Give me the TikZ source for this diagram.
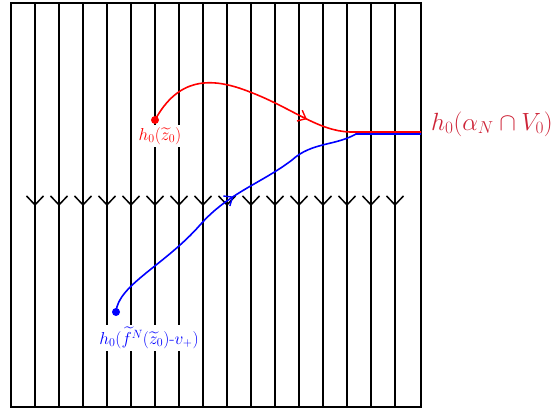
\documentclass[tikz,border=0pt]{standalone}
\usepackage{amsmath,amssymb}
\usepackage{tikz}
\usetikzlibrary{arrows.meta}
\usetikzlibrary{decorations.markings}
\usepackage{xcolor}
\definecolor{LeafRed}{RGB}{255,0,0}
\definecolor{LeafBlue}{RGB}{0,0,255}
\definecolor{SetRed}{RGB}{205,35,55}
\tikzset{
	leaf/.style={black, line width=1.6pt},
	leaftip/.style={-{Straight Barb[length=9pt, width=17pt, line width=1.5pt]}},
	frame/.style={black, line width=1.6pt},
	orbit/.style={line width=1.6pt},
	dot/.style={circle, inner sep=0pt, minimum size=8pt},
	tag/.style={fill=white, inner sep=2pt, font=\fontsize{17.5}{20}\selectfont},
	midarrow/.style={postaction={decorate}, decoration={markings,
		mark=at position #1 with {\arrow{Straight Barb[length=7pt, width=12pt, line width=1.4pt]}}}}
}

\begin{document}
\begin{tikzpicture}[x=1pt, y=-1pt]
	\useasboundingbox (0,0) rectangle (556,409);
	
	% Vertical leaves, each flowing downwards
	\foreach \k in {1,...,16}{
		\draw[leaf, leaftip] (11+24*\k,3) -- (11+24*\k,206);
		\draw[leaf] (11+24*\k,200) -- (11+24*\k,407);
	}
	
	% Box
	\draw[frame] (11,3) rectangle (421,407);
	
	% End of both paths on the right side
	\coordinate (rend) at (421,132);
	\coordinate (bend) at (421,134);
	
	% Starting points
	\node[dot, fill=LeafRed] (zdot) at (155,120) {};
	\node[dot, fill=LeafBlue] (fdot) at (116,312) {};
	
	% Blue path
	\draw[orbit, LeafBlue, midarrow=0.45] (fdot.center)
		.. controls (118,285) and (165,265) .. (200,225)
		.. controls (228,193) and (262,183) .. (292,160)
		.. controls (312,142) and (335,146) .. (356,134) -- (bend);
	
	% Red path
	\draw[orbit, LeafRed, midarrow=0.6] (zdot.center)
		.. controls (178,78) and (210,76) .. (250,92)
		.. controls (292,108) and (318,131) .. (350,132) -- (rend);
	
	% Labels
	\node[tag, text=LeafRed] (zlab) at (160,136) {$h_0(\widetilde{z}_0)$};
	\node[tag, text=LeafBlue] (flab) at (149,338) {$h_0(\widetilde{f}^N(\widetilde{z}_0)\text{-}v_+)$};
	\node[text=SetRed, font=\fontsize{23}{28}\selectfont, anchor=east, inner sep=0pt] (alab) at (553,124) {$h_0(\alpha_N\cap V_0)$};
	
\end{tikzpicture}
\end{document}
